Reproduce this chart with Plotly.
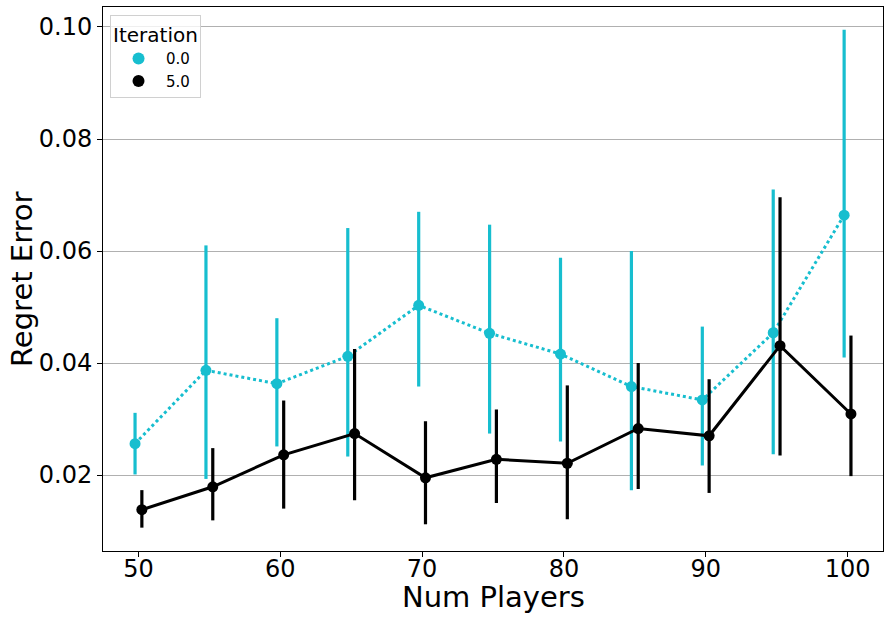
import plotly.graph_objects as go

num_players = [50, 55, 60, 65, 70, 75, 80, 85, 90, 95, 100]
x_tick_labels = [50, 60, 70, 80, 90, 100]

# iteration 0.0
it0_mean = [0.0256, 0.0387, 0.0363, 0.0412, 0.0503, 0.0453, 0.0416, 0.0358, 0.0334, 0.0454, 0.0664]
it0_low = [0.0201, 0.0193, 0.0251, 0.0233, 0.0358, 0.0274, 0.0260, 0.0173, 0.0217, 0.0237, 0.0410]
it0_high = [0.0311, 0.0610, 0.0480, 0.0641, 0.0670, 0.0647, 0.0588, 0.0600, 0.0465, 0.0710, 0.0995]

# iteration 5.0
it5_mean = [0.0138, 0.0179, 0.0236, 0.0274, 0.0195, 0.0228, 0.0221, 0.0283, 0.0270, 0.0431, 0.0309]
it5_low = [0.0106, 0.0119, 0.0140, 0.0155, 0.0112, 0.0150, 0.0121, 0.0175, 0.0168, 0.0235, 0.0198]
it5_high = [0.0173, 0.0248, 0.0333, 0.0425, 0.0296, 0.0317, 0.0360, 0.0400, 0.0371, 0.0696, 0.0449]

y_ticks = [0.02, 0.04, 0.06, 0.08, 0.10]

CYAN = "#17becf"
BLACK = "#000000"
DODGE = 0.24  # in "num players" units

series = [
    ("0.0", it0_mean, it0_low, it0_high, CYAN, "dot", -DODGE),
    ("5.0", it5_mean, it5_low, it5_high, BLACK, "solid", DODGE),
]

fig = go.Figure()
for name, mean, low, high, color, dash, off in series:
    fig.add_trace(go.Scatter(
        x=[n + off for n in num_players],
        y=mean,
        mode="lines+markers",
        line=dict(color=color, width=3, dash=dash),
        marker=dict(color=color, size=11),
        error_y=dict(type="data", symmetric=False,
                     array=[h - m for h, m in zip(high, mean)],
                     arrayminus=[m - l for m, l in zip(mean, low)],
                     color=color, thickness=3.2, width=0),
        showlegend=False,
        legendgroup=name,
    ))
    # marker-only legend entry
    fig.add_trace(go.Scatter(
        x=[None], y=[None], mode="markers", name=name,
        marker=dict(color=color, size=10),
        legendgroup=name,
    ))

fig.update_layout(
    width=891, height=622,
    margin=dict(l=103, r=8, t=7, b=71),
    paper_bgcolor="white", plot_bgcolor="white",
    font=dict(family="DejaVu Sans", color="black"),
    legend=dict(
        title=dict(text="Iteration", font=dict(size=20)),
        font=dict(size=15),
        x=0.009, y=0.985, xanchor="left", yanchor="top",
        bordercolor="#d0d0d0", borderwidth=1, bgcolor="rgba(255,255,255,0.8)",
        itemsizing="constant", tracegroupgap=0, itemwidth=45,
    ),
    xaxis=dict(
        range=[47.5, 102.5],
        tickvals=x_tick_labels, ticktext=[str(n) for n in x_tick_labels],
        tickfont=dict(size=24), ticklabelstandoff=-9,
        showgrid=False, zeroline=False, automargin=False,
        showline=True, mirror=True, linecolor="black", linewidth=1,
        ticks="outside", ticklen=5, tickcolor="black",
    ),
    yaxis=dict(
        range=[0.00643, 0.10357],
        tickvals=y_ticks, ticktext=[f"{v:.2f}" for v in y_ticks],
        tickfont=dict(size=24),
        showgrid=True, gridcolor="#b0b0b0", gridwidth=1, zeroline=False,
        automargin=False,
        showline=True, mirror=True, linecolor="black", linewidth=1,
        ticks="outside", ticklen=5, tickcolor="black",
    ),
    annotations=[
        dict(text="Num Players", xref="paper", yref="paper", x=0.5, y=0,
             xanchor="center", yanchor="middle", yshift=-46,
             showarrow=False, font=dict(size=29)),
        dict(text="Regret Error", xref="paper", yref="paper", x=0, y=0.5,
             xanchor="center", yanchor="middle", xshift=-81, textangle=-90,
             showarrow=False, font=dict(size=29)),
    ],
)

# the page's default body margin would shift the figure
fig.write_html("out.html", config={"displayModeBar": False},
               post_script="document.body.style.margin='0px';")
